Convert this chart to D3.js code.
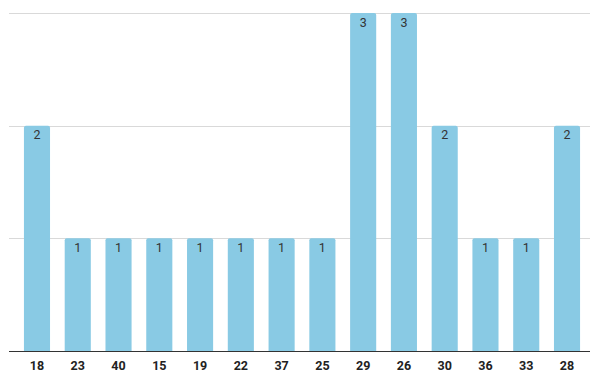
<!DOCTYPE html>
<html>
<head>
<meta charset="utf-8">
<script src="https://cdn.jsdelivr.net/npm/d3@7"></script>
<style>
  html, body { margin: 0; padding: 0; background: #fff; }
  svg { display: block; font-family: Roboto, "Liberation Sans", Arial, sans-serif; }
</style>
</head>
<body>
<svg id="chart" width="590" height="371"></svg>
<script>
// Counts per category
const categories = ["18", "23", "40", "15", "19", "22", "37", "25", "29", "26", "30", "36", "33", "28"];
const counts = [2, 1, 1, 1, 1, 1, 1, 1, 3, 3, 2, 1, 1, 2];
const yTicks = [1, 2, 3];

const svg = d3.select("#chart");
const gridLeft = 9, gridRight = 590;
const plotTop = 13, plotBottom = 351;

const x = d3.scaleBand()
  .domain(categories)
  .range([16.6, 587.4])
  .paddingInner(0.36)
  .paddingOuter(0.18);

const y = d3.scaleLinear()
  .domain([0, 3])
  .range([plotBottom, plotTop]);

// Horizontal gridlines
svg.append("g")
  .selectAll("line")
  .data(yTicks)
  .join("line")
  .attr("x1", gridLeft)
  .attr("x2", gridRight)
  .attr("y1", d => Math.round(y(d)) + 0.5)
  .attr("y2", d => Math.round(y(d)) + 0.5)
  .attr("stroke", "#d9d9d9")
  .attr("stroke-width", 1);

const rows = categories.map((c, i) => ({ c, v: counts[i] }));

// Bars with slightly rounded top corners
const r = 2;
svg.append("g")
  .selectAll("path")
  .data(rows)
  .join("path")
  .attr("fill", "#89cae4")
  .attr("d", d => {
    const x0 = x(d.c), w = x.bandwidth();
    const y0 = y(d.v), y1 = y(0);
    return `M${x0},${y1}V${y0 + r}Q${x0},${y0} ${x0 + r},${y0}H${x0 + w - r}Q${x0 + w},${y0} ${x0 + w},${y0 + r}V${y1}Z`;
  });

// Value labels inside the top of each bar
svg.append("g")
  .selectAll("text")
  .data(rows)
  .join("text")
  .attr("x", d => x(d.c) + x.bandwidth() / 2)
  .attr("y", d => y(d.v) + 13.5)
  .attr("text-anchor", "middle")
  .attr("font-size", 12.5)
  .attr("fill", "#333")
  .text(d => d.v);

// Baseline
svg.append("line")
  .attr("x1", gridLeft)
  .attr("x2", gridRight)
  .attr("y1", plotBottom + 0.5)
  .attr("y2", plotBottom + 0.5)
  .attr("stroke", "#333")
  .attr("stroke-width", 1);

// Category axis labels
const xAxis = d3.axisBottom(x).tickSize(0).tickPadding(0);
const gx = svg.append("g")
  .attr("transform", `translate(0,${plotBottom})`)
  .call(xAxis);
gx.select(".domain").remove();
gx.selectAll("text")
  .attr("y", 18.5)
  .attr("dy", 0)
  .attr("font-size", 12.5)
  .attr("font-weight", "bold")
  .attr("font-family", "Roboto, 'Liberation Sans', Arial, sans-serif")
  .attr("fill", "#222");
</script>
</body>
</html>
